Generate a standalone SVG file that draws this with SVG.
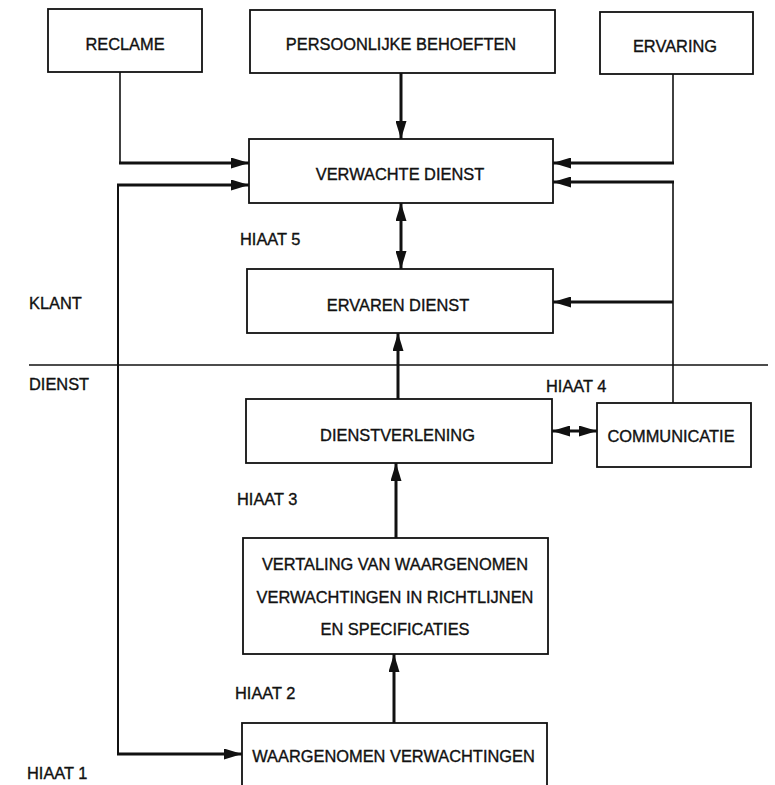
<svg xmlns="http://www.w3.org/2000/svg" width="775" height="785" viewBox="0 0 775 785">
  <style>
    .box { fill: #ffffff; stroke: #111111; stroke-width: 1.8; }
    .lbl { font-family: "Liberation Sans", Arial, sans-serif; font-size: 16.4px; fill: #111111; stroke: #111111; stroke-width: 0.35; text-anchor: middle; }
    .side { font-family: "Liberation Sans", Arial, sans-serif; font-size: 16.4px; fill: #111111; stroke: #111111; stroke-width: 0.35; }
    .thin { fill: none; stroke: #111111; stroke-width: 1.6; }
    .thick { fill: none; stroke: #111111; stroke-width: 3; }
    .arr { marker-end: url(#head); }
    .dbl { marker-start: url(#head); marker-end: url(#head); }
  </style>
  <defs>
    <marker id="head" markerUnits="userSpaceOnUse" markerWidth="19" markerHeight="11" refX="18" refY="5.5" orient="auto-start-reverse">
      <path d="M0,0 L18,5.5 L0,11 z" fill="#111111"/>
    </marker>
  </defs>
  <rect width="775" height="785" fill="#ffffff"/>

  <!-- customer / provider divider -->
  <line x1="29" y1="365" x2="768" y2="365" class="thin"/>
  <text class="side" x="29" y="309">KLANT</text>
  <text class="side" x="29" y="390">DIENST</text>

  <!-- gap labels -->
  <text class="side" x="240" y="245">HIAAT 5</text>
  <text class="side" x="546" y="392">HIAAT 4</text>
  <text class="side" x="237" y="505">HIAAT 3</text>
  <text class="side" x="235" y="699">HIAAT 2</text>
  <text class="side" x="27" y="779">HIAAT 1</text>

  <!-- connectors -->
  <g id="connectors">
    <!-- reclame -> verwachte dienst -->
    <polyline class="thin" points="120,72 120,163"/>
    <line class="thick arr" x1="119" y1="163" x2="249" y2="163"/>
    <!-- persoonlijke behoeften -> verwachte dienst -->
    <line class="thick arr" x1="401" y1="73" x2="401" y2="139"/>
    <!-- ervaring -> verwachte dienst -->
    <polyline class="thin" points="673,74 673,163"/>
    <line class="thick arr" x1="674" y1="163" x2="553" y2="163"/>
    <!-- communicatie -> verwachte / ervaren dienst -->
    <polyline class="thin" points="673,403 673,182"/>
    <line class="thick arr" x1="674" y1="182" x2="553" y2="182"/>
    <line class="thick arr" x1="673" y1="302" x2="553" y2="302"/>
    <!-- hiaat 5 -->
    <line class="thick dbl" x1="401" y1="203" x2="401" y2="269"/>
    <!-- dienstverlening -> ervaren dienst -->
    <line class="thick arr" x1="398" y1="399" x2="398" y2="333"/>
    <!-- dienstverlening <-> communicatie -->
    <line class="thick dbl" x1="552" y1="431" x2="597" y2="431"/>
    <!-- vertaling -> dienstverlening -->
    <line class="thick arr" x1="396" y1="538" x2="396" y2="463"/>
    <!-- waargenomen -> vertaling -->
    <line class="thick arr" x1="394" y1="723" x2="394" y2="654"/>
    <!-- hiaat 1 loop -->
    <polyline class="thin" points="118,754 118,185" style="stroke-width:2"/>
    <line class="thick arr" x1="117" y1="185" x2="249" y2="185"/>
    <line class="thick arr" x1="117" y1="754" x2="242" y2="754"/>
  </g>

  <g id="reclame">
    <rect class="box" x="48" y="9" width="154" height="63"/>
    <text class="lbl" x="125" y="50">RECLAME</text>
  </g>
  <g id="persoonlijke-behoeften">
    <rect class="box" x="250" y="10" width="305" height="63"/>
    <text class="lbl" x="401" y="49.5">PERSOONLIJKE BEHOEFTEN</text>
  </g>
  <g id="ervaring">
    <rect class="box" x="600" y="12" width="153" height="62"/>
    <text class="lbl" x="675" y="52">ERVARING</text>
  </g>
  <g id="verwachte-dienst">
    <rect class="box" x="249" y="139" width="304" height="64"/>
    <text class="lbl" x="400" y="179.5">VERWACHTE DIENST</text>
  </g>
  <g id="ervaren-dienst">
    <rect class="box" x="247" y="269" width="306" height="64"/>
    <text class="lbl" x="398" y="310.5">ERVAREN DIENST</text>
  </g>
  <g id="dienstverlening">
    <rect class="box" x="246" y="399" width="306" height="64"/>
    <text class="lbl" x="397.5" y="441">DIENSTVERLENING</text>
  </g>
  <g id="communicatie">
    <rect class="box" x="597" y="403" width="154" height="64"/>
    <text class="lbl" x="671" y="442">COMMUNICATIE</text>
  </g>
  <g id="vertaling">
    <rect class="box" x="243" y="538" width="305" height="116"/>
    <text class="lbl" x="395" y="569.5">VERTALING VAN WAARGENOMEN</text>
    <text class="lbl" x="395" y="602.5">VERWACHTINGEN IN RICHTLIJNEN</text>
    <text class="lbl" x="395" y="634.5">EN SPECIFICATIES</text>
  </g>
  <g id="waargenomen-verwachtingen">
    <rect class="box" x="242" y="723" width="305" height="80"/>
    <text class="lbl" x="393.5" y="762">WAARGENOMEN VERWACHTINGEN</text>
  </g>
</svg>
